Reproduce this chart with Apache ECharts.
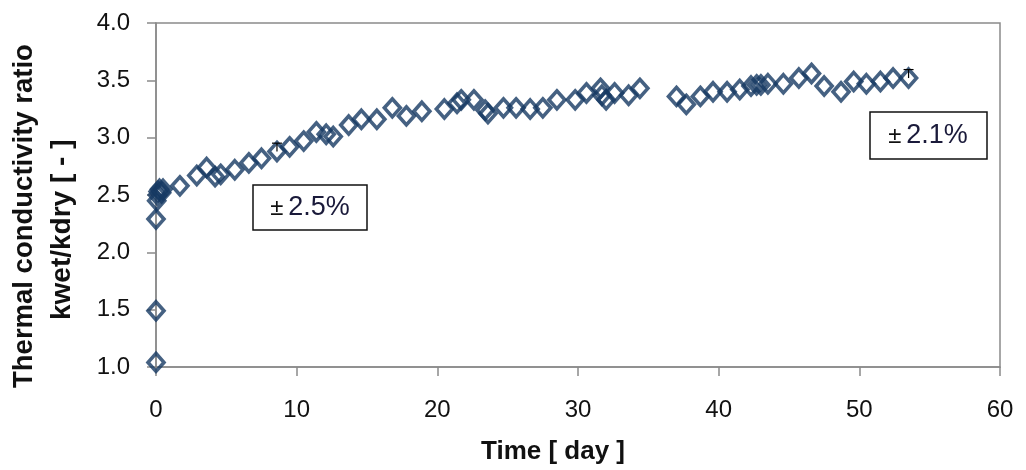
<!DOCTYPE html>
<html>
<head>
<meta charset="utf-8">
<script src="https://cdn.jsdelivr.net/npm/echarts@6/dist/echarts.min.js"></script>
<style>html,body{margin:0;padding:0;background:#fff;}#c{width:1026px;height:470px;}</style>
</head>
<body>
<div id="c"></div>
<script>
const days = [0,0,0,0.05,0.1,0.15,0.25,0.4,0.5,
  1.7,2.9,3.6,4.2,4.6,5.6,6.6,7.5,8.6,9.5,10.5,11.4,12.1,12.6,13.7,14.6,15.7,16.8,17.8,18.9,
  20.5,21.4,21.7,22.6,23.4,23.6,24.7,25.6,26.6,27.5,28.5,29.8,30.6,31.6,31.7,32.0,32.6,33.6,34.4,
  37.0,37.7,38.7,39.6,40.6,41.5,42.3,42.7,43.0,43.5,44.6,45.7,46.6,47.5,48.7,49.6,50.5,51.5,52.4,53.5];
const ratio = [1.04,1.49,2.29,2.45,2.5,2.53,2.55,2.52,2.55,
  2.58,2.67,2.74,2.66,2.68,2.72,2.78,2.82,2.88,2.92,2.97,3.05,3.03,3.01,3.11,3.16,3.16,3.26,3.19,3.23,
  3.25,3.3,3.33,3.33,3.24,3.21,3.26,3.26,3.25,3.26,3.33,3.33,3.39,3.43,3.37,3.33,3.39,3.37,3.43,
  3.36,3.29,3.36,3.4,3.4,3.42,3.45,3.46,3.46,3.47,3.47,3.52,3.56,3.45,3.4,3.49,3.47,3.49,3.52,3.52];
const errDays = [8.6, 53.5];
const errVals = [2.88, 3.52];
const errPct = [0.025, 0.021];
const xTicks = [0,10,20,30,40,50,60];
const yTicks = [1.0,1.5,2.0,2.5,3.0,3.5,4.0];
const boxLabels = ['2.5%', '2.1%'];

const pts = days.map((d,i)=>[d, ratio[i]]);
const errData = errDays.map((d,i)=>[d, errVals[i], errVals[i]*errPct[i]]);

const chart = echarts.init(document.getElementById('c'));
const axisCol = '#8a8a8a';
const fontFam = '"Liberation Sans", Arial, sans-serif';
const navy = '#163a63';
chart.setOption({
  animation:false,
  grid:{left:156,right:26,top:23,bottom:101,show:true,borderColor:axisCol,borderWidth:1.5},
  xAxis:{type:'value',min:xTicks[0],max:xTicks[xTicks.length-1],interval:10,
    axisLine:{show:true,onZero:false,lineStyle:{color:axisCol,width:1.5}},
    axisTick:{show:true,length:9,lineStyle:{color:axisCol,width:1.5}},
    splitLine:{show:false},
    axisLabel:{color:'#111',fontSize:24,fontFamily:fontFam,margin:31},
    name:'Time [ day ]',nameLocation:'middle',nameGap:72,
    nameTextStyle:{color:'#111',fontSize:26,fontWeight:'bold',fontFamily:fontFam,padding:[0,50,0,0]}
  },
  yAxis:{type:'value',min:yTicks[0],max:yTicks[yTicks.length-1],interval:0.5,
    axisLine:{show:true,onZero:false,lineStyle:{color:axisCol,width:1.5}},
    axisTick:{show:true,length:9,lineStyle:{color:axisCol,width:1.5}},
    splitLine:{show:false},
    axisLabel:{color:'#111',fontSize:24,fontFamily:fontFam,margin:26,formatter:v=>v.toFixed(1)}
  },
  series:[
    {type:'scatter',data:pts,symbol:'diamond',symbolSize:[16,18],
     itemStyle:{color:'rgba(0,0,0,0)',borderColor:navy,borderWidth:3.6},z:3},
    {type:'custom',data:errData,z:4,
     renderItem:(params,api)=>{
       const x=api.value(0), y=api.value(1), e=api.value(2);
       const p0=api.coord([x,y]), p1=api.coord([x,y+e]);
       return {type:'group',children:[
         {type:'line',shape:{x1:p0[0],y1:p0[1],x2:p1[0],y2:p1[1]},style:{stroke:'#000',lineWidth:1.2}},
         {type:'line',shape:{x1:p1[0]-5,y1:p1[1],x2:p1[0]+5,y2:p1[1]},style:{stroke:'#000',lineWidth:1.2}}
       ]};
     }}
  ],
  graphic:[
    {type:'text',id:'yt1',x:10,y:388,rotation:Math.PI/2,
     style:{text:'Thermal conductivity ratio',font:'bold 27.5px '+fontFam,fill:'#111',textAlign:'left',textVerticalAlign:'top'}},
    {type:'text',id:'yt2',x:48,y:320,rotation:Math.PI/2,
     style:{text:'kwet/kdry [ - ]',font:'bold 28px '+fontFam,fill:'#111',textAlign:'left',textVerticalAlign:'top'}},
    {type:'group',id:'b1',x:253,y:185,children:[
      {type:'rect',shape:{x:0,y:0,width:114,height:45},style:{fill:'#fff',stroke:'#111',lineWidth:1.5}},
      {type:'text',x:57,y:23,style:{text:'{a|±}{b|'+boxLabels[0]+'}',align:'center',verticalAlign:'middle',
        rich:{a:{font:'24px '+fontFam,fill:'#111',padding:[0,5,0,0]},b:{font:'27px '+fontFam,fill:'#1a1a3a'}}}}
    ]},
    {type:'group',id:'b2',x:870,y:112,children:[
      {type:'rect',shape:{x:0,y:0,width:117,height:47},style:{fill:'#fff',stroke:'#111',lineWidth:1.5}},
      {type:'text',x:58,y:24,style:{text:'{a|±}{b|'+boxLabels[1]+'}',align:'center',verticalAlign:'middle',
        rich:{a:{font:'24px '+fontFam,fill:'#111',padding:[0,5,0,0]},b:{font:'27px '+fontFam,fill:'#1a1a3a'}}}}
    ]}
  ]
});
</script>
</body>
</html>
